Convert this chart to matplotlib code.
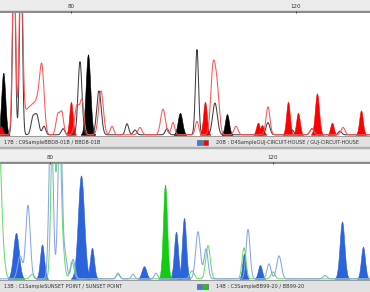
import numpy as np
import matplotlib.pyplot as plt
from matplotlib.patches import Rectangle

# peak tables: position (bp), height (fraction of panel), sigma (bp)
# top panel: 17B (black) and 20B (red)
top_black_line_pos = [69.87, 71.11, 73.24, 73.96, 75.2, 78.58, 81.6, 84.98, 89.96, 91.38,
                      97.07, 102.4, 105.6, 115.02, 119.29, 122.84, 127.82]
top_black_line_h = [1.5, 1.5, 0.14, 0.15, 0.07, 0.05, 0.60, 0.36, 0.09, 0.04,
                    0.05, 0.70, 0.26, 0.10, 0.04, 0.05, 0.03]
top_black_line_w = [0.25, 0.25, 0.35, 0.35, 0.3, 0.3, 0.35, 0.4, 0.3, 0.3,
                    0.3, 0.28, 0.42, 0.35, 0.3, 0.35, 0.3]

top_black_fill_pos = [67.96, 83.02, 99.38, 107.73]
top_black_fill_h = [0.51, 0.66, 0.18, 0.17]
top_black_fill_w = [0.35, 0.4, 0.4, 0.35]

top_red_line_pos = [69.87, 71.11, 72.1, 73.24, 74.13, 74.84, 77.69, 78.4, 81.07, 81.96,
                    85.33, 87.29, 92.27, 96.36, 98.13, 102.4, 105.24, 105.96, 109.33,
                    115.02, 122.84, 128.36]
top_red_line_h = [1.5, 1.5, 0.18, 0.20, 0.20, 0.52, 0.17, 0.17, 0.24, 0.27,
                  0.36, 0.07, 0.06, 0.21, 0.10, 0.11, 0.52, 0.36, 0.07,
                  0.23, 0.05, 0.06]
top_red_line_w = [0.28, 0.3, 0.6, 0.55, 0.45, 0.4, 0.35, 0.3, 0.4, 0.35,
                  0.42, 0.3, 0.35, 0.42, 0.3, 0.3, 0.4, 0.4, 0.35,
                  0.35, 0.35, 0.35]

top_red_fill_pos = [67.56, 80.0, 103.82, 113.24, 113.96, 118.58, 120.36, 123.73, 126.4, 131.56]
top_red_fill_h = [0.07, 0.27, 0.27, 0.10, 0.08, 0.27, 0.18, 0.34, 0.10, 0.20]
top_red_fill_w = [0.3, 0.3, 0.32, 0.32, 0.3, 0.32, 0.32, 0.36, 0.3, 0.32]

# bottom panel: 13B (blue) and 14B (green)
bot_blue_fill_pos = [73.9, 78.57, 85.56, 87.53, 96.86, 102.6, 104.04, 114.8, 117.67, 132.38, 136.14]
bot_blue_fill_h = [0.40, 0.30, 0.90, 0.27, 0.11, 0.41, 0.53, 0.22, 0.12, 0.50, 0.28]
bot_blue_fill_w = [0.5, 0.36, 0.55, 0.36, 0.42, 0.36, 0.36, 0.3, 0.36, 0.42, 0.36]

bot_green_fill_pos = [100.63]
bot_green_fill_h = [0.82]
bot_green_fill_w = [0.36]

bot_blue_line_pos = [74.62, 76.05, 80.18, 81.79, 82.69, 84.13, 92.2, 94.89, 99.01,
                     106.55, 107.98, 115.52, 119.28, 121.08, 129.33]
bot_blue_line_h = [0.20, 0.64, 1.5, 1.5, 0.20, 0.17, 0.04, 0.04, 0.05,
                   0.41, 0.26, 0.43, 0.13, 0.20, 0.03]
bot_blue_line_w = [0.42, 0.4, 0.35, 0.35, 0.35, 0.35, 0.3, 0.3, 0.3,
                   0.42, 0.36, 0.36, 0.36, 0.42, 0.35]

bot_green_line_pos = [70.85, 71.75, 76.77, 80.54, 81.61, 82.33, 83.95, 92.2,
                      105.47, 108.34, 114.8, 120.0]
bot_green_line_h = [1.2, 0.09, 0.04, 1.5, 1.5, 0.20, 0.15, 0.05,
                    0.07, 0.29, 0.27, 0.06]
bot_green_line_w = [0.45, 0.35, 0.35, 0.35, 0.35, 0.35, 0.35, 0.3,
                    0.4, 0.4, 0.35, 0.35]

top_labels = ["17B : C9SampleBBD8-01B / BBD8-01B",
              "20B : D4SampleGUJ-CIRCUIT-HOUSE / GUJ-CIRCUIT-HOUSE"]
bot_labels = ["13B : C1SampleSUNSET POINT / SUNSET POINT",
              "14B : C3SampleBB99-20 / BB99-20"]
ticks = [80, 120]
top_xlim = (67.38, 133.16)
bot_xlim = (71.03, 137.40)


def trace(x, pos, h, w):
    y = np.zeros_like(x)
    for p, a, s in zip(pos, h, w):
        y += a * np.exp(-0.5 * ((x - p) / s) ** 2)
    return y


def draw_panel(ax, xlim, lines, fills):
    x = np.linspace(xlim[0], xlim[1], 3000)
    for pos, h, w, col in fills:
        for p, a, s in zip(pos, h, w):
            y = a * np.exp(-0.5 * ((x - p) / s) ** 2)
            ax.fill_between(x, 0, y, where=y > 0.004, color=col, lw=0.4, zorder=2)
    for pos, h, w, col, lw in lines:
        ax.plot(x, trace(x, pos, h, w), color=col, lw=lw, zorder=3)
    ax.set_xlim(*xlim)
    ax.set_ylim(-0.01, 1.0)
    ax.set_yticks([])
    ax.xaxis.tick_top()
    ax.set_xticks(ticks)
    ax.tick_params(axis='x', length=1.5, width=0.6, pad=1.2, labelsize=4, colors='#333333')
    for sp in ax.spines.values():
        sp.set_visible(False)


fig = plt.figure(figsize=(3.7, 2.92), dpi=100)

# window chrome in pixel coordinates
bg = fig.add_axes([0, 0, 1, 1])
bg.set_xlim(0, 370)
bg.set_ylim(292, 0)
bg.axis('off')
bg.add_patch(Rectangle((0, 0), 370, 11, color='#ebebeb'))
bg.add_patch(Rectangle((0, 11), 370, 1.5, color='#8c8c8c'))
bg.add_patch(Rectangle((0, 136), 370, 1, color='#8c8c8c'))
bg.add_patch(Rectangle((0, 137), 370, 10, color='#e2e2e2'))
bg.add_patch(Rectangle((0, 147), 370, 15, color='#efefef'))
bg.add_patch(Rectangle((0, 147), 370, 0.8, color='#b0b0b0'))
bg.add_patch(Rectangle((0, 162), 370, 1.5, color='#8c8c8c'))
bg.add_patch(Rectangle((0, 280), 370, 1, color='#8c8c8c'))
bg.add_patch(Rectangle((0, 281), 370, 11, color='#e2e2e2'))

# status bars
for ybar, labels, c2 in [(142.3, top_labels, '#ff0000'), (286.5, bot_labels, '#11cc11')]:
    bg.text(4, ybar, labels[0], fontsize=3.6, color='#333333', va='center', ha='left')
    bg.text(216, ybar, labels[1], fontsize=3.6, color='#333333', va='center', ha='left')
    bg.add_patch(Rectangle((197, ybar - 2.5), 5, 5, facecolor='#4477dd', edgecolor='#555555', lw=0.4))
    bg.add_patch(Rectangle((203, ybar - 2.5), 5, 5, facecolor=c2, edgecolor='#555555', lw=0.4))

ax_top = fig.add_axes([0, (292 - 136) / 292, 1, 123 / 292])
ax_bot = fig.add_axes([0, (292 - 280) / 292, 1, 116 / 292])

draw_panel(ax_top, top_xlim,
           [(top_black_line_pos, top_black_line_h, top_black_line_w, '#404040', 0.75),
            (top_red_line_pos, top_red_line_h, top_red_line_w, '#ff5555', 0.75)],
           [(top_black_fill_pos, top_black_fill_h, top_black_fill_w, '#000000'),
            (top_red_fill_pos, top_red_fill_h, top_red_fill_w, '#ff0000')])

draw_panel(ax_bot, bot_xlim,
           [(bot_green_line_pos, bot_green_line_h, bot_green_line_w, '#66dd66', 0.75),
            (bot_blue_line_pos, bot_blue_line_h, bot_blue_line_w, '#86a4f0', 0.75)],
           [(bot_blue_fill_pos, bot_blue_fill_h, bot_blue_fill_w, '#2a63da'),
            (bot_green_fill_pos, bot_green_fill_h, bot_green_fill_w, '#11cc11')])

fig.savefig('out.png', dpi=100)
